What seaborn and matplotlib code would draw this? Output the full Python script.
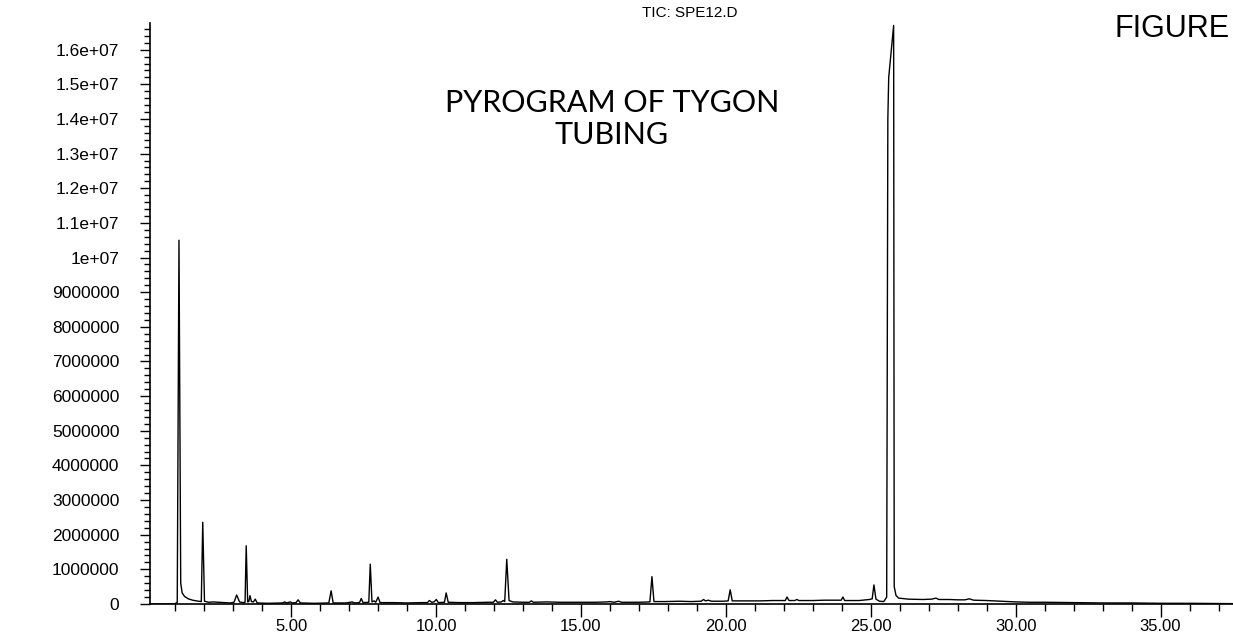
import numpy as np
import pandas as pd
import matplotlib
matplotlib.use("Agg")
import matplotlib.pyplot as plt
from matplotlib.ticker import FixedLocator, MultipleLocator
import seaborn as sns

# Trace: retention time (min) and TIC (millions of counts)
rt = [0.13, 0.60, 1.00, 1.07, 1.13, 1.19, 1.24, 1.32, 1.45, 1.60, 1.80, 1.90,
      1.95, 2.01, 2.15, 2.30, 2.50, 2.70, 2.90, 3.03, 3.12, 3.22, 3.35, 3.41,
      3.45, 3.50, 3.54, 3.58, 3.63, 3.70, 3.76, 3.83, 4.20, 4.70, 4.78, 4.85,
      4.97, 5.05, 5.17, 5.24, 5.32, 5.80, 6.30, 6.38, 6.45, 6.90, 7.10, 7.20,
      7.36, 7.42, 7.48, 7.68, 7.73, 7.79, 7.86, 7.92, 8.00, 8.07, 8.50, 9.00,
      9.50, 9.70, 9.77, 9.85, 9.93, 10.01, 10.08, 10.29, 10.35, 10.42, 10.80,
      11.30, 11.80, 11.98, 12.05, 12.12, 12.25, 12.32, 12.37, 12.44, 12.52,
      12.65, 13.00, 13.22, 13.29, 13.36, 13.80, 14.30, 15.00, 15.50, 15.90,
      16.00, 16.15, 16.30, 16.40, 17.00, 17.38, 17.45, 17.52, 17.90, 18.40,
      18.80, 19.15, 19.23, 19.30, 19.40, 19.50, 19.90, 20.08, 20.15, 20.22,
      20.60, 21.20, 21.60, 22.05, 22.11, 22.18, 22.38, 22.45, 22.52, 23.00,
      23.40, 23.98, 24.04, 24.10, 24.60, 24.95, 25.05, 25.11, 25.18, 25.30,
      25.45, 25.55, 25.59, 25.62, 25.70, 25.79, 25.81, 25.87, 25.96, 26.30,
      26.80, 27.10, 27.25, 27.35, 27.70, 28.00, 28.25, 28.40, 28.55, 29.00,
      29.50, 30.00, 30.50, 31.00, 32.00, 33.00, 34.00, 35.00, 36.00, 37.50]
tic_m = [0.00, 0.00, 0.01, 0.05, 10.50, 0.60, 0.32, 0.22, 0.15, 0.11, 0.08, 0.07,
         2.36, 0.08, 0.05, 0.06, 0.05, 0.04, 0.03, 0.05, 0.26, 0.06, 0.04, 0.05,
         1.68, 0.06, 0.07, 0.24, 0.07, 0.06, 0.14, 0.03, 0.02, 0.03, 0.06, 0.03,
         0.06, 0.03, 0.04, 0.12, 0.03, 0.02, 0.03, 0.38, 0.03, 0.03, 0.06, 0.03,
         0.04, 0.16, 0.04, 0.05, 1.15, 0.06, 0.09, 0.05, 0.20, 0.04, 0.04, 0.03,
         0.04, 0.04, 0.10, 0.05, 0.06, 0.13, 0.04, 0.05, 0.32, 0.05, 0.04,
         0.04, 0.05, 0.05, 0.12, 0.05, 0.06, 0.10, 0.07, 1.29, 0.10,
         0.06, 0.05, 0.05, 0.09, 0.05, 0.06, 0.05, 0.05, 0.05, 0.06,
         0.07, 0.05, 0.08, 0.05, 0.05, 0.06, 0.79, 0.07, 0.07, 0.08,
         0.07, 0.08, 0.13, 0.09, 0.11, 0.08, 0.08, 0.09, 0.41, 0.09,
         0.09, 0.09, 0.10, 0.10, 0.20, 0.10, 0.10, 0.13, 0.10, 0.10,
         0.11, 0.11, 0.20, 0.10, 0.10, 0.13, 0.15, 0.55, 0.14, 0.08,
         0.07, 0.20, 14.00, 15.20, 15.90, 16.70, 0.50, 0.25, 0.17, 0.14,
         0.13, 0.14, 0.17, 0.13, 0.13, 0.12, 0.12, 0.15, 0.11, 0.10,
         0.08, 0.06, 0.05, 0.05, 0.04, 0.03, 0.03, 0.02, 0.02, 0.01]

x_ticks = [5, 10, 15, 20, 25, 30, 35]
x_labels = ["5.00", "10.00", "15.00", "20.00", "25.00", "30.00", "35.00"]
y_ticks = [i * 1e6 for i in range(17)]
y_labels = ["0", "1000000", "2000000", "3000000", "4000000", "5000000",
            "6000000", "7000000", "8000000", "9000000", "1e+07", "1.1e+07",
            "1.2e+07", "1.3e+07", "1.4e+07", "1.5e+07", "1.6e+07"]

df = pd.DataFrame({"rt": rt, "tic": np.array(tic_m) * 1e6})

sns.set_theme(style="white")
plt.rcParams["font.family"] = ["Liberation Sans", "DejaVu Sans"]
plt.rcParams["text.color"] = "black"
plt.rcParams["xtick.color"] = "black"
plt.rcParams["ytick.color"] = "black"

fig = plt.figure(figsize=(12.33, 6.34), dpi=100)
ax = fig.add_axes([150 / 1233, 30 / 634, 1083 / 1233, 581 / 634])

sns.lineplot(data=df, x="rt", y="tic", color="black", linewidth=1.0,
             sort=False, estimator=None, ax=ax)

ax.set_xlim(0.13, 37.5)
ax.set_ylim(0, 1.677e7)
ax.set_xlabel("")
ax.set_ylabel("")

ax.xaxis.set_major_locator(FixedLocator(x_ticks))
ax.set_xticklabels(x_labels)
ax.xaxis.set_minor_locator(MultipleLocator(1))
ax.yaxis.set_major_locator(FixedLocator(y_ticks))
ax.set_yticklabels(y_labels)
ax.yaxis.set_minor_locator(MultipleLocator(2e5))

ax.tick_params(axis="x", which="major", direction="out", length=9, width=1.0,
               colors="black", pad=1.5, labelsize=12, bottom=True)
ax.tick_params(axis="x", which="minor", direction="out", length=5, width=1.0,
               colors="black", bottom=True)
ax.tick_params(axis="y", which="major", direction="out", length=7, width=1.0,
               colors="black", pad=15, labelsize=12.5, left=True)
ax.tick_params(axis="y", which="minor", direction="out", length=4, width=1.0,
               colors="black", left=True)

sns.despine(ax=ax)
for side in ("left", "bottom"):
    ax.spines[side].set_color("black")
    ax.spines[side].set_linewidth(1.2)

fig.text(690 / 1233, 1 - 13 / 634, "TIC: SPE12.D", ha="center", va="center",
         fontsize=11, color="black")
fig.text(612 / 1233, 1 - 119 / 634, "PYROGRAM OF TYGON\nTUBING", ha="center",
         va="center", multialignment="center", fontsize=22, linespacing=1.15,
         family=["Lato", "DejaVu Sans"], fontweight="normal", color="black")
fig.text(1230 / 1233, 1 - 37 / 634, "FIGURE", ha="right", va="baseline",
         fontsize=22, color="black")

fig.savefig("out.png", dpi=100, facecolor="white")
